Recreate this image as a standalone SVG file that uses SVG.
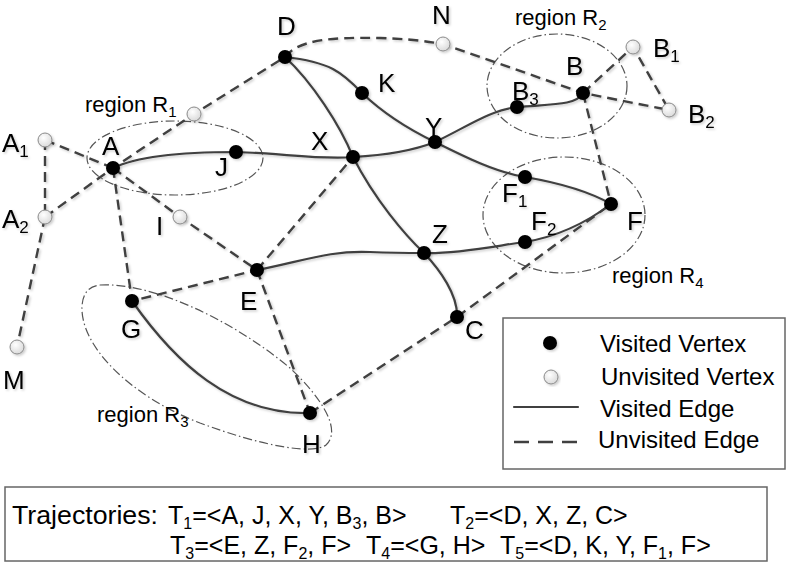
<svg xmlns="http://www.w3.org/2000/svg" width="789" height="568" viewBox="0 0 789 568">
<style>
text{font-family:"Liberation Sans",Arial,sans-serif;fill:#000}
.lbl{font-size:26px}
.reg{font-size:22px}
.leg{font-size:24px}
.traj{font-size:25px}
.sub{font-size:17px}
.tsub{font-size:16px}
.rsub{font-size:15px}
.vis{fill:none;stroke:#404040;stroke-width:2.2;stroke-linecap:round}
.unv{fill:none;stroke:#404040;stroke-width:2.4;stroke-dasharray:10 6}
.region{fill:none;stroke:#555;stroke-width:1.2;stroke-dasharray:9 3 1.5 3}
.bn{fill:#000}
.wn{fill:url(#wg);stroke:#8a8a8a;stroke-width:1}
.box{fill:#fff;stroke:#666;stroke-width:1.5}
</style>
<defs>
<radialGradient id="wg" cx="0.4" cy="0.35" r="0.7">
<stop offset="0" stop-color="#ffffff"/>
<stop offset="1" stop-color="#d8d8d8"/>
</radialGradient>
<filter id="sh" x="-20%" y="-20%" width="140%" height="140%">
<feDropShadow dx="1.5" dy="1.5" stdDeviation="1" flood-color="#000" flood-opacity="0.2"/>
</filter>
</defs>
<rect width="789" height="568" fill="#fff"/>

<g id="regions">
<ellipse class="region" cx="175" cy="158" rx="88" ry="37"/>
<ellipse class="region" cx="557" cy="86" rx="70" ry="52"/>
<ellipse class="region" cx="564" cy="215" rx="81" ry="58"/>
<path class="region" d="M100,285 C150,282 230,318 290,368 C322,398 342,430 326,445 C312,455 262,446 200,423 C130,396 80,346 82,306 C83,292 90,286 100,285 Z"/>
<text class="reg" x="85" y="112">region R<tspan class="rsub" dy="5">1</tspan></text>
<text class="reg" x="515" y="25">region R<tspan class="rsub" dy="5">2</tspan></text>
<text class="reg" x="97" y="422">region R<tspan class="rsub" dy="5">3</tspan></text>
<text class="reg" x="612" y="283">region R<tspan class="rsub" dy="5">4</tspan></text>
</g>

<g id="connectors" filter="url(#sh)">
<g id="unvisited-edges">
<path class="unv" d="M45,140 L45,217"/>
<path class="unv" d="M45,217 L17,347"/>
<path class="unv" d="M45,140 L113,168"/>
<path class="unv" d="M113,168 L180,217 L257,270"/>
<path class="unv" d="M45,217 L113,168 L194,114 L285,57"/>
<path class="unv" d="M285,57 C298,40 330,37 380,38 C410,39 425,41 443,44 L583,93 L669,110"/>
<path class="unv" d="M583,93 L633,47 L669,110"/>
<path class="unv" d="M583,93 L611,204"/>
<path class="unv" d="M113,168 L132,301 L257,270"/>
<path class="unv" d="M257,270 L353,157"/>
<path class="unv" d="M257,270 L310,413"/>
<path class="unv" d="M310,413 L457,317 L611,204"/>
</g>
<g id="visited-edges">
<path class="vis" d="M113,168 C140,155 190,152 236,152 C280,153 320,160 353,157 C390,155 415,150 435,142 C465,128 490,110 517,107 C550,104 576,106 583,93"/>
<path class="vis" d="M285,57 C312,82 340,125 353,157 C375,200 405,235 424,253 C440,270 458,295 457,317"/>
<path class="vis" d="M257,270 C300,262 330,250 370,252 C395,253 410,253 424,253 C460,254 500,245 525,242 C560,236 590,220 611,204"/>
<path class="vis" d="M285,57 C330,62 342,72 362,93 C385,115 410,130 435,142 C465,157 495,172 525,177 C560,183 590,192 611,204"/>
<path class="vis" d="M132,301 C175,362 230,415 310,413"/>
</g>
</g>

<g id="nodes" filter="url(#sh)">
<g id="node-A"><circle class="bn" cx="113" cy="168" r="7"/><text class="lbl" x="102" y="155">A</text></g>
<g id="node-J"><circle class="bn" cx="236" cy="152" r="7"/><text class="lbl" x="215" y="176">J</text></g>
<g id="node-X"><circle class="bn" cx="353" cy="157" r="7"/><text class="lbl" x="311" y="150">X</text></g>
<g id="node-Y"><circle class="bn" cx="435" cy="142" r="7"/><text class="lbl" x="425" y="136">Y</text></g>
<g id="node-K"><circle class="bn" cx="362" cy="93" r="7"/><text class="lbl" x="378" y="92">K</text></g>
<g id="node-D"><circle class="bn" cx="285" cy="57" r="7"/><text class="lbl" x="277" y="35">D</text></g>
<g id="node-N"><circle class="wn" cx="443" cy="44" r="7"/><text class="lbl" x="432" y="24">N</text></g>
<g id="node-B"><circle class="bn" cx="583" cy="93" r="7"/><text class="lbl" x="566" y="75">B</text></g>
<g id="node-B3"><circle class="bn" cx="517" cy="107" r="7"/><text class="lbl" x="512" y="100">B<tspan class="sub" dy="5">3</tspan></text></g>
<g id="node-B1"><circle class="wn" cx="633" cy="47" r="7"/><text class="lbl" x="653" y="57">B<tspan class="sub" dy="5">1</tspan></text></g>
<g id="node-B2"><circle class="wn" cx="669" cy="110" r="7"/><text class="lbl" x="688" y="123">B<tspan class="sub" dy="5">2</tspan></text></g>
<g id="node-F1"><circle class="bn" cx="525" cy="177" r="7"/><text class="lbl" x="502" y="202">F<tspan class="sub" dy="5">1</tspan></text></g>
<g id="node-F2"><circle class="bn" cx="525" cy="242" r="7"/><text class="lbl" x="531" y="230">F<tspan class="sub" dy="5">2</tspan></text></g>
<g id="node-F"><circle class="bn" cx="611" cy="204" r="7"/><text class="lbl" x="627" y="230">F</text></g>
<g id="node-Z"><circle class="bn" cx="424" cy="253" r="7"/><text class="lbl" x="432" y="243">Z</text></g>
<g id="node-C"><circle class="bn" cx="457" cy="317" r="7"/><text class="lbl" x="465" y="339">C</text></g>
<g id="node-E"><circle class="bn" cx="257" cy="270" r="7"/><text class="lbl" x="240" y="310">E</text></g>
<g id="node-G"><circle class="bn" cx="132" cy="301" r="7"/><text class="lbl" x="121" y="338">G</text></g>
<g id="node-H"><circle class="bn" cx="310" cy="413" r="7"/><text class="lbl" x="302" y="453">H</text></g>
<g id="node-I"><circle class="wn" cx="180" cy="217" r="7"/><text class="lbl" x="156" y="235">I</text></g>
<g id="node-A1"><circle class="wn" cx="45" cy="140" r="7"/><text class="lbl" x="2" y="152">A<tspan class="sub" dy="5">1</tspan></text></g>
<g id="node-A2"><circle class="wn" cx="45" cy="217" r="7"/><text class="lbl" x="2" y="228">A<tspan class="sub" dy="5">2</tspan></text></g>
<g id="node-M"><circle class="wn" cx="17" cy="347" r="7"/><text class="lbl" x="3" y="389">M</text></g>
<g id="node-W"><circle class="wn" cx="194" cy="114" r="7"/></g>
</g>

<g id="legend">
<rect class="box" x="503" y="318" width="282" height="151"/>
<circle class="bn" cx="550" cy="343" r="7" filter="url(#sh)"/>
<text class="leg" x="600" y="352">Visited Vertex</text>
<circle class="wn" cx="551" cy="377" r="7" filter="url(#sh)"/>
<text class="leg" x="601" y="385">Unvisited Vertex</text>
<path class="vis" d="M514,407 L578,407"/>
<text class="leg" x="600" y="417">Visited Edge</text>
<path class="unv" d="M514,442 L578,442" style="stroke-dasharray:15 9"/>
<text class="leg" x="598" y="448">Unvisited Edge</text>
</g>

<g id="trajectories">
<rect class="box" x="5" y="487" width="762" height="74"/>
<text class="traj" x="12" y="524" textLength="146" lengthAdjust="spacingAndGlyphs">Trajectories:</text>
<text class="traj" x="168" y="524">T<tspan class="tsub" dy="5">1</tspan><tspan dy="-5">=&lt;A, J, X, Y, B</tspan><tspan class="tsub" dy="5">3</tspan><tspan dy="-5">, B&gt;</tspan></text>
<text class="traj" x="450" y="524">T<tspan class="tsub" dy="5">2</tspan><tspan dy="-5">=&lt;D, X, Z, C&gt;</tspan></text>
<text class="traj" x="170" y="554">T<tspan class="tsub" dy="5">3</tspan><tspan dy="-5">=&lt;E, Z, F</tspan><tspan class="tsub" dy="5">2</tspan><tspan dy="-5">, F&gt;</tspan></text>
<text class="traj" x="366" y="554">T<tspan class="tsub" dy="5">4</tspan><tspan dy="-5">=&lt;G, H&gt;</tspan></text>
<text class="traj" x="500" y="554">T<tspan class="tsub" dy="5">5</tspan><tspan dy="-5">=&lt;D, K, Y, F</tspan><tspan class="tsub" dy="5">1</tspan><tspan dy="-5">, F&gt;</tspan></text>
</g>
</svg>
